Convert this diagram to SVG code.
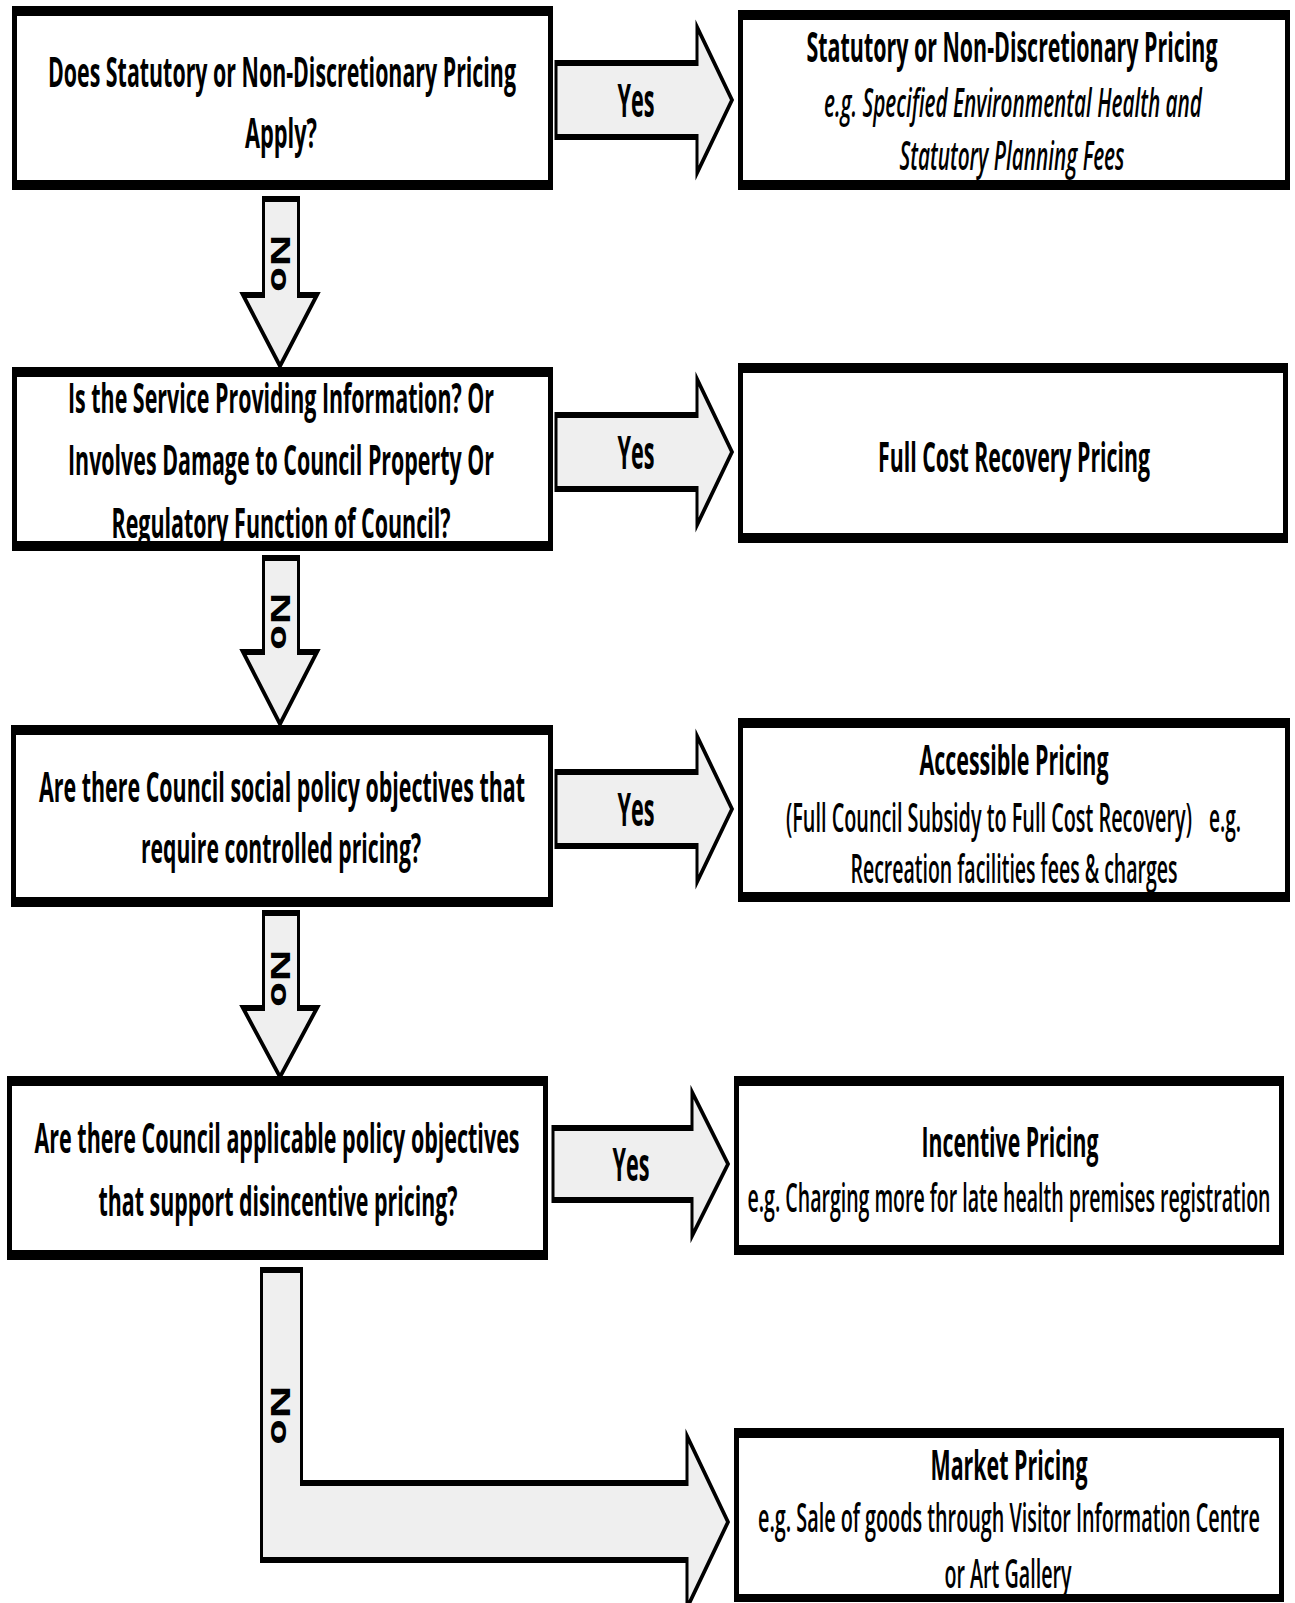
<svg xmlns="http://www.w3.org/2000/svg" width="1295" height="1603" viewBox="0 0 1295 1603">
<style>
text { font-family: 'Open Sans','Noto Sans','Liberation Sans',sans-serif; fill:#000; text-anchor:middle; }
.q { font-weight:700; font-size:42px; }
.t { font-weight:700; font-size:41px; }
.d { font-weight:600; font-size:40px; }
.di { font-weight:600; font-style:italic; font-size:40px; }
.lbl { font-weight:700; font-size:46px; }
.no { font-weight:700; font-size:40px; }
.arrow { fill:#efefef; stroke:#000; stroke-width:6; stroke-linejoin:miter; stroke-miterlimit:8; }
.bo { fill:#000; }
.bi { fill:#fff; }
</style>
<rect width="1295" height="1603" fill="#fff"/>
<g id="connectors">
  <g transform="scale(0.5 1)">
    <path class="arrow" d="M1112,63 H1394 V27 L1464,100 L1394,173 V137 H1112 Z"/>
    <path class="arrow" d="M1112,415 H1394 V379 L1464,452 L1394,525 V489 H1112 Z"/>
    <path class="arrow" d="M1112,772 H1394 V736 L1464,809 L1394,882 V846 H1112 Z"/>
    <path class="arrow" d="M1106,1128 H1384 V1092 L1456,1164 L1384,1236 V1200 H1106 Z"/>
    <path class="arrow" d="M527,199 H597 V295 H634 L560,366 L486,295 H527 Z"/>
    <path class="arrow" d="M527,558 H597 V652 H634 L560,724 L486,652 H527 Z"/>
    <path class="arrow" d="M527,913 H597 V1008 H634 L560,1077 L486,1008 H527 Z"/>
    <path class="arrow" d="M523,1270 H603 V1483 H1374 V1436 L1456,1522 L1374,1608 V1560 H523 Z"/>
    <text class="lbl" x="1272" y="117" textLength="74" lengthAdjust="spacingAndGlyphs">Yes</text>
    <text class="lbl" x="1272" y="469" textLength="74" lengthAdjust="spacingAndGlyphs">Yes</text>
    <text class="lbl" x="1272" y="826" textLength="74" lengthAdjust="spacingAndGlyphs">Yes</text>
    <text class="lbl" x="1262" y="1181" textLength="74" lengthAdjust="spacingAndGlyphs">Yes</text>
  </g>
  <text class="no" transform="translate(271,263) rotate(90) scale(1 0.65)" x="0" y="0" textLength="58" lengthAdjust="spacingAndGlyphs">No</text>
  <text class="no" transform="translate(271,621) rotate(90) scale(1 0.65)" x="0" y="0" textLength="58" lengthAdjust="spacingAndGlyphs">No</text>
  <text class="no" transform="translate(271,978) rotate(90) scale(1 0.65)" x="0" y="0" textLength="58" lengthAdjust="spacingAndGlyphs">No</text>
  <text class="no" transform="translate(271,1415) rotate(90) scale(1 0.65)" x="0" y="0" textLength="60" lengthAdjust="spacingAndGlyphs">No</text>
</g>
<g id="q1">
  <rect class="bo" x="12" y="6" width="541" height="184"/>
  <rect class="bi" x="17" y="16" width="531" height="164"/>
  <g transform="scale(0.5 1)">
    <text class="q" x="564" y="87" textLength="936" lengthAdjust="spacingAndGlyphs">Does Statutory or Non-Discretionary Pricing</text>
    <text class="q" x="562" y="148" textLength="144" lengthAdjust="spacingAndGlyphs">Apply?</text>
  </g>
</g>
<g id="r1">
  <rect class="bo" x="738" y="10" width="552" height="180"/>
  <rect class="bi" x="743" y="20" width="542" height="160"/>
  <g transform="scale(0.5 1)">
    <text class="t" x="2024" y="62" textLength="822" lengthAdjust="spacingAndGlyphs">Statutory or Non-Discretionary Pricing</text>
    <text class="di" x="2026" y="117" textLength="756" lengthAdjust="spacingAndGlyphs">e.g. Specified Environmental Health and</text>
    <text class="di" x="2024" y="170" textLength="450" lengthAdjust="spacingAndGlyphs">Statutory Planning Fees</text>
  </g>
</g>
<g id="q2">
  <rect class="bo" x="12" y="367" width="541" height="184"/>
  <rect class="bi" x="17" y="377" width="531" height="164"/>
  <g transform="scale(0.5 1)">
    <text class="q" x="562" y="413" textLength="852" lengthAdjust="spacingAndGlyphs">Is the Service Providing Information? Or</text>
    <text class="q" x="562" y="475" textLength="852" lengthAdjust="spacingAndGlyphs">Involves Damage to Council Property Or</text>
    <text class="q" x="562" y="538" textLength="678" lengthAdjust="spacingAndGlyphs">Regulatory Function of Council?</text>
  </g>
</g>
<g id="r2">
  <rect class="bo" x="738" y="363" width="550" height="180"/>
  <rect class="bi" x="743" y="373" width="540" height="160"/>
  <g transform="scale(0.5 1)">
    <text class="t" x="2028" y="472" textLength="544" lengthAdjust="spacingAndGlyphs">Full Cost Recovery Pricing</text>
  </g>
</g>
<g id="q3">
  <rect class="bo" x="11" y="725" width="542" height="182"/>
  <rect class="bi" x="16" y="735" width="532" height="162"/>
  <g transform="scale(0.5 1)">
    <text class="q" x="564" y="802" textLength="972" lengthAdjust="spacingAndGlyphs">Are there Council social policy objectives that</text>
    <text class="q" x="562" y="863" textLength="560" lengthAdjust="spacingAndGlyphs">require controlled pricing?</text>
  </g>
</g>
<g id="r3">
  <rect class="bo" x="738" y="718" width="552" height="184"/>
  <rect class="bi" x="743" y="728" width="542" height="164"/>
  <g transform="scale(0.5 1)">
    <text class="t" x="2028" y="775" textLength="378" lengthAdjust="spacingAndGlyphs">Accessible Pricing</text>
    <text class="d" x="1978" y="832" textLength="812" lengthAdjust="spacingAndGlyphs">(Full Council Subsidy to Full Cost Recovery)</text>
    <text class="d" x="2450" y="832" textLength="64" lengthAdjust="spacingAndGlyphs">e.g.</text>
    <text class="d" x="2028" y="883" textLength="654" lengthAdjust="spacingAndGlyphs">Recreation facilities fees &amp; charges</text>
  </g>
</g>
<g id="q4">
  <rect class="bo" x="7" y="1076" width="541" height="184"/>
  <rect class="bi" x="12" y="1086" width="531" height="164"/>
  <g transform="scale(0.5 1)">
    <text class="q" x="554" y="1153" textLength="970" lengthAdjust="spacingAndGlyphs">Are there Council applicable policy objectives</text>
    <text class="q" x="556" y="1216" textLength="718" lengthAdjust="spacingAndGlyphs">that support disincentive pricing?</text>
  </g>
</g>
<g id="r4">
  <rect class="bo" x="734" y="1076" width="550" height="179"/>
  <rect class="bi" x="739" y="1086" width="540" height="159"/>
  <g transform="scale(0.5 1)">
    <text class="t" x="2020" y="1157" textLength="354" lengthAdjust="spacingAndGlyphs">Incentive Pricing</text>
    <text class="d" x="2018" y="1212" textLength="1046" lengthAdjust="spacingAndGlyphs">e.g. Charging more for late health premises registration</text>
  </g>
</g>
<g id="r5">
  <rect class="bo" x="734" y="1428" width="550" height="174"/>
  <rect class="bi" x="739" y="1438" width="540" height="156"/>
  <g transform="scale(0.5 1)">
    <text class="t" x="2018" y="1480" textLength="314" lengthAdjust="spacingAndGlyphs">Market Pricing</text>
    <text class="d" x="2018" y="1532" textLength="1004" lengthAdjust="spacingAndGlyphs">e.g. Sale of goods through Visitor Information Centre</text>
    <text class="d" x="2016" y="1588" textLength="254" lengthAdjust="spacingAndGlyphs">or Art Gallery</text>
  </g>
</g>
</svg>
